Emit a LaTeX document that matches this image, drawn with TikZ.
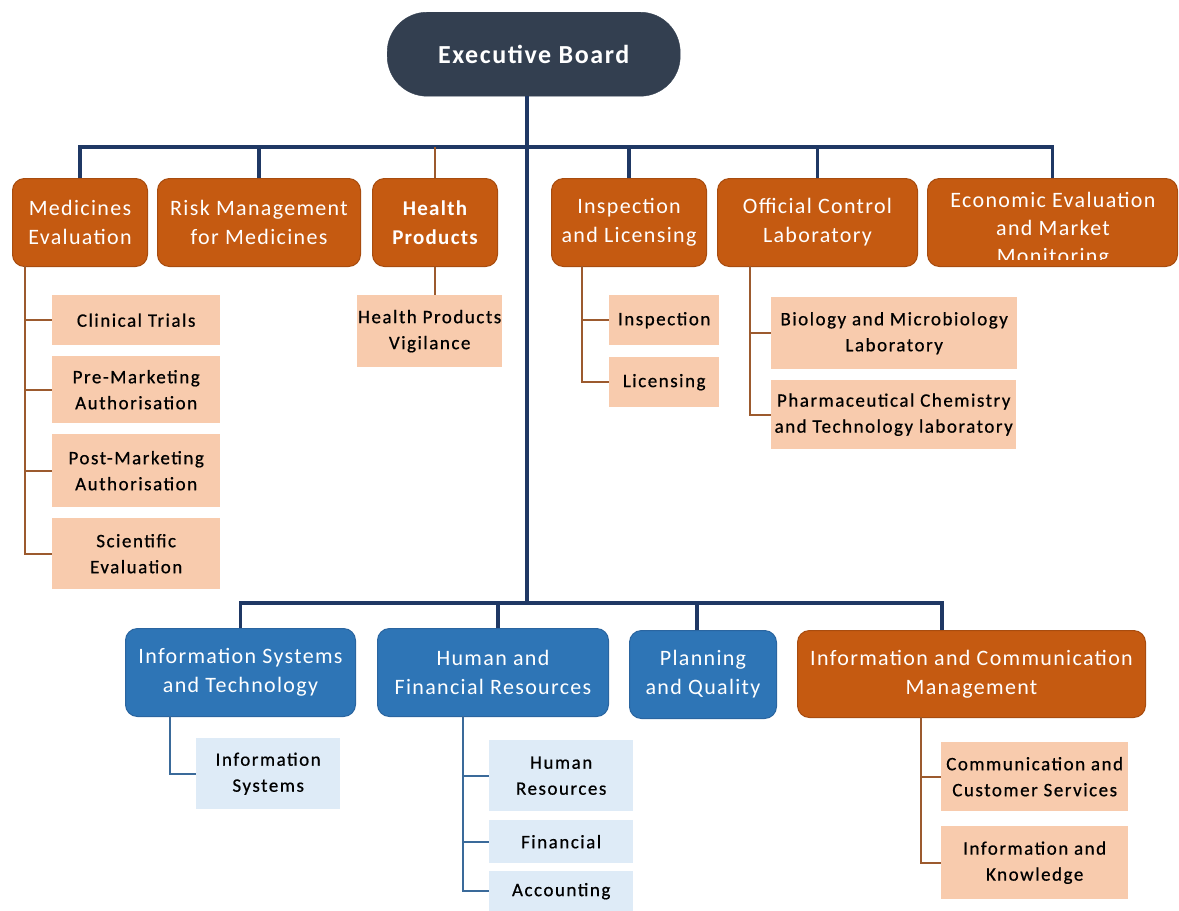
\documentclass[tikz,border=0pt]{standalone}
\usepackage{fontspec}
\setmainfont{Carlito}
\newfontfamily\boardfont[LetterSpace=6]{Carlito}
\newfontfamily\unitfont[LetterSpace=6]{Carlito}
\newfontfamily\subunitfont[LetterSpace=8, FakeBold=0.6]{Carlito}
\usetikzlibrary{calc}
\definecolor{slate}{HTML}{333F50}
\definecolor{unitorange}{HTML}{C55A11}
\definecolor{unitorangeedge}{HTML}{A84C0F}
\definecolor{unitblue}{HTML}{2E75B6}
\definecolor{unitblueedge}{HTML}{2A65A0}
\definecolor{peach}{HTML}{F8CBAD}
\definecolor{paleblue}{HTML}{DEEBF7}
\definecolor{navyline}{HTML}{1F3864}
\definecolor{brownline}{HTML}{9C5A2E}
\definecolor{bluesubline}{HTML}{3A6A9A}
\tikzset{
  board/.style={fill=slate, draw=slate, rounded corners=40pt, text=white,
    font=\boardfont\fontsize{26}{30}\selectfont\bfseries, inner sep=0pt, anchor=north west},
  orangeunit/.style={fill=unitorange, draw=unitorangeedge, line width=1pt, rounded corners=12pt,
    text=white, align=center, font=\unitfont\fontsize{22}{29}\selectfont, inner sep=0pt, anchor=north west},
  blueunit/.style={orangeunit, fill=unitblue, draw=unitblueedge},
  peachsub/.style={fill=peach, draw=none, text=black, align=center,
    font=\subunitfont\fontsize{19}{26}\selectfont, inner sep=0pt, anchor=north west},
  bluesub/.style={peachsub, fill=paleblue},
  busline/.style={draw=navyline, line width=3.5pt},
  brownlink/.style={draw=brownline, line width=2pt},
  bluelink/.style={draw=bluesubline, line width=2pt},
}
\begin{document}
\begin{tikzpicture}[x=1pt,y=-1pt]
\useasboundingbox (0,0) rectangle (1179,911);

% ---------- top board ----------
\node[board, minimum width=293pt, minimum height=84pt] (exec) at (387,12) {Executive Board};

% ---------- directorates (upper row) ----------
\node[orangeunit, minimum width=135pt, minimum height=88pt] (med) at (12,178) {Medicines\\Evaluation};
\node[orangeunit, minimum width=203pt, minimum height=88pt] (risk) at (157,178) {Risk Management\\for Medicines};
\node[orangeunit, minimum width=125pt, minimum height=88pt, font=\unitfont\fontsize{21}{29}\selectfont\bfseries] (hp) at (372,178) {Health\\Products};
\node[orangeunit, minimum width=155pt, minimum height=88pt] (insp) at (551,178) {Inspection\\and Licensing};
\node[orangeunit, minimum width=200pt, minimum height=88pt] (ocl) at (717,178) {Official Control\\Laboratory};
\node[orangeunit, minimum width=250pt, minimum height=88pt] (eco) at (927,178) {};
% the third line runs past the box and is cut off
\begin{scope}
  \clip (927,178) rectangle (1177,259);
  \node[text=white, align=center, font=\unitfont\fontsize{22}{28}\selectfont, inner sep=0pt] (ecotext) at (1053,230)
    {Economic Evaluation\\and Market\\Monitoring};
\end{scope}

% ---------- directorates (lower row) ----------
\node[blueunit, minimum width=230pt, minimum height=88pt] (ist) at (125,628) {Information Systems\\and Technology};
\node[blueunit, minimum width=231pt, minimum height=88pt] (hfr) at (377,628) {Human and\\Financial Resources};
\node[blueunit, minimum width=147pt, minimum height=88pt] (pq) at (629,630) {Planning\\and Quality};
\node[orangeunit, minimum width=348pt, minimum height=87pt] (icm) at (797,630) {Information and Communication\\Management};

% ---------- units ----------
\node[peachsub, minimum width=168pt, minimum height=50pt] (ct) at (52,295) {Clinical Trials};
\node[peachsub, minimum width=168pt, minimum height=67pt] (prem) at (52,356) {Pre-Marketing\\Authorisation};
\node[peachsub, minimum width=168pt, minimum height=73pt] (postm) at (52,434) {Post-Marketing\\Authorisation};
\node[peachsub, minimum width=168pt, minimum height=71pt] (sci) at (52,518) {Scientific\\Evaluation};

\node[peachsub, minimum width=145pt, minimum height=72pt] (hpv) at (357,295) {Health Products\\Vigilance};

\node[peachsub, minimum width=110pt, minimum height=50pt] (ins) at (609,295) {Inspection};
\node[peachsub, minimum width=110pt, minimum height=50pt] (lic) at (609,357) {Licensing};

\node[peachsub, minimum width=246pt, minimum height=72pt] (bio) at (771,297) {Biology and Microbiology\\Laboratory};
\node[peachsub, minimum width=245pt, minimum height=69pt] (pharm) at (771,380) {Pharmaceutical Chemistry\\and Technology laboratory};

\node[bluesub, minimum width=144pt, minimum height=71pt] (is) at (196,738) {Information\\Systems};

\node[bluesub, minimum width=144pt, minimum height=71pt] (hr) at (489,740) {Human\\Resources};
\node[bluesub, minimum width=144pt, minimum height=43pt] (fin) at (489,820) {Financial};
\node[bluesub, minimum width=144pt, minimum height=40pt] (acc) at (489,871) {Accounting};

\node[peachsub, minimum width=187pt, minimum height=69pt] (ccs) at (941,742) {Communication and\\Customer Services};
\node[peachsub, minimum width=187pt, minimum height=73pt] (ik) at (941,826) {Information and\\Knowledge};

% ---------- reporting lines ----------
\coordinate (trunktop) at (527,96);
\coordinate (topbus) at (527,147);
\coordinate (lowbus) at (527,603);
\coordinate (hfrdrop) at (498,628);
\coordinate (pqdrop) at (697,630);
\coordinate (icmdrop) at (942,630);

\draw[busline] (trunktop) -- (lowbus);
\draw[busline] (med.north) -- (med.north |- topbus) -- (eco.north |- topbus) -- (eco.north);
\draw[busline] (risk.north) -- (risk.north |- topbus);
\draw[busline] (insp.north) -- (insp.north |- topbus);
\draw[busline] (ocl.north) -- (ocl.north |- topbus);
\draw[brownlink] (hp.north) -- (hp.north |- topbus);

\draw[busline] (ist.north) -- (ist.north |- lowbus) -- (icmdrop |- lowbus) -- (icmdrop);
\draw[busline] (hfrdrop) -- (hfrdrop |- lowbus);
\draw[busline] (pqdrop) -- (pqdrop |- lowbus);

% Medicines Evaluation units
\coordinate (medspine) at (25,266);
\draw[brownlink] (medspine) |- (sci.west);
\draw[brownlink] (medspine |- ct.west) -- (ct.west);
\draw[brownlink] (medspine |- prem.west) -- (prem.west);
\draw[brownlink] (medspine |- postm.west) -- (postm.west);

% Health Products unit
\draw[brownlink] (hp.south) -- (hp.south |- hpv.north);

% Inspection and Licensing units
\coordinate (inspspine) at (582,266);
\draw[brownlink] (inspspine) |- (lic.west);
\draw[brownlink] (inspspine |- ins.west) -- (ins.west);

% Official Control Laboratory units
\coordinate (oclspine) at (750,266);
\draw[brownlink] (oclspine) |- (pharm.west);
\draw[brownlink] (oclspine |- bio.west) -- (bio.west);

% Information Systems and Technology unit
\coordinate (istspine) at (170,716);
\draw[bluelink] (istspine) |- (is.west);

% Human and Financial Resources units
\coordinate (hfrspine) at (463,716);
\draw[bluelink] (hfrspine) |- (acc.west);
\draw[bluelink] (hfrspine |- hr.west) -- (hr.west);
\draw[bluelink] (hfrspine |- fin.west) -- (fin.west);

% Information and Communication Management units
\coordinate (icmspine) at (921,717);
\draw[brownlink] (icmspine) |- (ik.west);
\draw[brownlink] (icmspine |- ccs.west) -- (ccs.west);
\end{tikzpicture}
\end{document}
